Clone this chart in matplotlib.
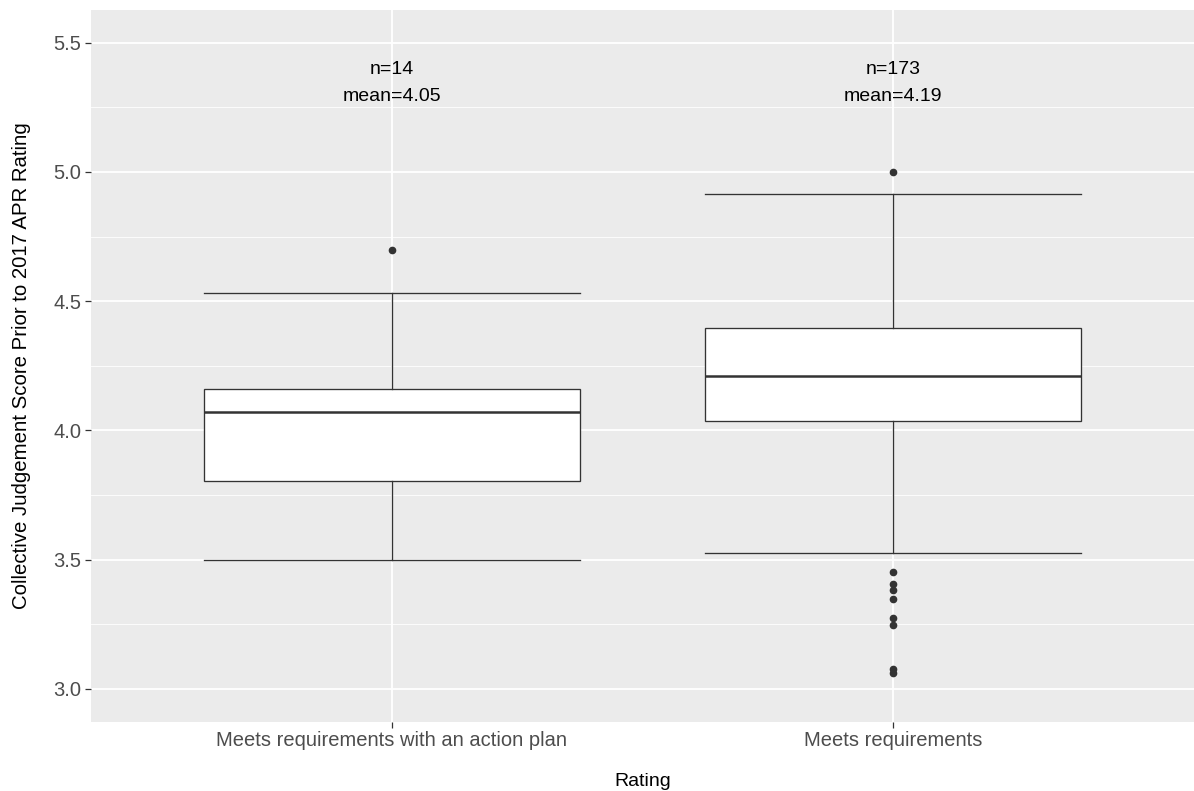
import numpy as np
import matplotlib
matplotlib.use('Agg')
import matplotlib.pyplot as plt
from matplotlib.ticker import MultipleLocator

plt.rcParams['font.family'] = ['Liberation Sans', 'DejaVu Sans']

# data
categories = ['Meets requirements with an action plan', 'Meets requirements']
n_obs = [14, 173]
means = [4.05, 4.19]
whislo = [3.50, 3.527]
q1 = [3.806, 4.035]
med = [4.07, 4.209]
q3 = [4.159, 4.395]
whishi = [4.531, 4.915]
fliers = [[4.70],
          [5.00, 3.451, 3.408, 3.383, 3.35, 3.274, 3.248, 3.076, 3.063]]

stats = []
for i, c in enumerate(categories):
    stats.append(dict(label=c, whislo=whislo[i], q1=q1[i], med=med[i],
                      q3=q3[i], whishi=whishi[i], fliers=fliers[i]))

fig = plt.figure(figsize=(11.94, 7.91), dpi=100)
ax = fig.add_axes([91 / 1194, 69.3 / 791, 1 - 91 / 1194, 711.7 / 791])
ax.set_facecolor('#EBEBEB')
for s in ax.spines.values():
    s.set_visible(False)

pos = np.arange(1, len(categories) + 1)
edge = '#333333'
ax.bxp(stats, positions=pos, widths=0.75, patch_artist=True,
       boxprops=dict(facecolor='white', edgecolor=edge, linewidth=0.95),
       medianprops=dict(color=edge, linewidth=1.8),
       whiskerprops=dict(color=edge, linewidth=0.95),
       capprops=dict(color=edge, linewidth=0.95),
       capwidths=0.75,
       flierprops=dict(marker='o', markerfacecolor=edge, markeredgecolor=edge,
                       markersize=4.5, linestyle='none'),
       zorder=3)

for p, n, m in zip(pos, n_obs, means):
    ax.text(p, 5.395, f'n={n}', ha='center', va='center', fontsize=14, color='black')
    ax.text(p, 5.29, f'mean={m:.2f}', ha='center', va='center', fontsize=14, color='black')

ax.set_xlim(0.4, 2.6)
ax.set_ylim(2.8735, 5.6265)
ax.set_xticks(pos)
ax.set_xticklabels(categories)
ax.yaxis.set_major_locator(MultipleLocator(0.5))
ax.yaxis.set_minor_locator(MultipleLocator(0.25))
ax.yaxis.set_major_formatter(matplotlib.ticker.FormatStrFormatter('%.1f'))

ax.grid(which='major', color='white', linewidth=1.3, zorder=0)
ax.grid(which='minor', axis='y', color='white', linewidth=0.6, zorder=0)
ax.set_axisbelow(True)
ax.tick_params(which='major', length=4, width=0.9, color='#333333',
               labelcolor='#4D4D4D', labelsize=14.5, pad=3)
ax.tick_params(which='minor', length=0)

ax.set_xlabel('Rating', fontsize=14, labelpad=16)
ax.set_ylabel('Collective Judgement Score Prior to 2017 APR Rating', fontsize=14.7, labelpad=16)

fig.savefig('out.png', dpi=100)
